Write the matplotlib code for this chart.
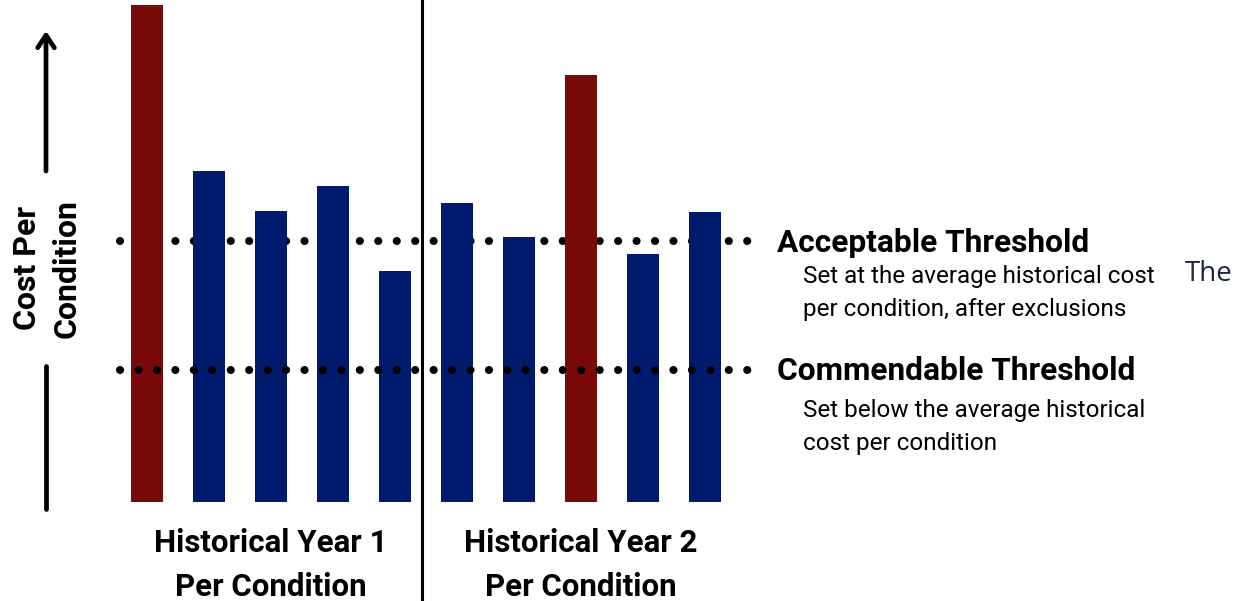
import matplotlib.pyplot as plt

# bar heights (arbitrary cost units)
year1_costs = [497, 331, 291, 316, 231]
year2_costs = [299, 265, 427, 248, 290]
high_flags = [True, False, False, False, False, False, False, True, False, False]
acceptable_threshold = 261
commendable_threshold = 132

group_labels = ["Historical Year 1\nPer Condition", "Historical Year 2\nPer Condition"]

RED = "#7a0a0a"
BLUE = "#001a6e"
W, H = 1245, 601

plt.rcParams["font.family"] = ["Roboto", "DejaVu Sans"]


def fx(px):
    return px / W


def fy(py):
    return 1 - py / H


costs = year1_costs + year2_costs
x = list(range(len(costs)))
colors = [RED if f else BLUE for f in high_flags]

fig = plt.figure(figsize=(W / 100, H / 100), dpi=100)
ax = fig.add_axes([0, 0, 1, 1])
ax.set_xlim(-147 / 62, (W - 147) / 62)
ax.set_ylim(-99, 502)
ax.axis("off")

# acceptable line sits behind the bars, commendable in front
dot_style = dict(color="black", lw=5.8, ls=(0, (0.01, 2.28)), dash_capstyle="round")
ax.plot([-0.435, 9.97], [acceptable_threshold] * 2, zorder=1, **dot_style)
ax.bar(x, costs, width=0.516, color=colors, zorder=2)
ax.plot([-0.435, 9.97], [commendable_threshold] * 2, zorder=3, **dot_style)

# divider between the two years
ax.axvline(4.44, color="black", lw=2.2, zorder=4)

# y axis arrow and label
ax.annotate("", xy=(fx(46), fy(31)), xytext=(fx(46), fy(171)),
            xycoords="axes fraction",
            arrowprops=dict(arrowstyle="->,head_length=0.9,head_width=0.6", lw=3.4,
                            color="black", shrinkA=0, shrinkB=0))
ax.plot([fx(46), fx(46)], [fy(366), fy(509)], transform=ax.transAxes,
        color="black", lw=3.4, solid_capstyle="round")
ax.text(fx(27), fy(268), "Cost Per", rotation=90, ha="center", va="center",
        fontsize=23, fontweight="bold", transform=ax.transAxes)
ax.text(fx(67), fy(268), "Condition", rotation=90, ha="center", va="center",
        fontsize=23, fontweight="bold", transform=ax.transAxes)

# group labels under the bars
for gi, label in enumerate(group_labels):
    ax.text(2 + 5 * gi, -63, label, ha="center", va="center", fontsize=22.5,
            fontweight="bold", linespacing=1.6)

# threshold annotations
ax.text(fx(777), fy(243), "Acceptable Threshold", ha="left", va="center",
        fontsize=22.8, fontweight="bold", transform=ax.transAxes)
ax.text(fx(803), fy(293), "Set at the average historical cost\nper condition, after exclusions",
        ha="left", va="center", fontsize=17.5, linespacing=1.51, transform=ax.transAxes)
ax.text(fx(777), fy(371), "Commendable Threshold", ha="left", va="center",
        fontsize=22.8, fontweight="bold", transform=ax.transAxes)
ax.text(fx(803), fy(427), "Set below the average historical\ncost per condition",
        ha="left", va="center", fontsize=17.5, linespacing=1.51, transform=ax.transAxes)
ax.text(fx(1185), fy(274), "The", ha="left", va="center", fontsize=20,
        color="#1c2541", family=["Open Sans", "DejaVu Sans"], transform=ax.transAxes)

fig.savefig("out.png", dpi=100)
